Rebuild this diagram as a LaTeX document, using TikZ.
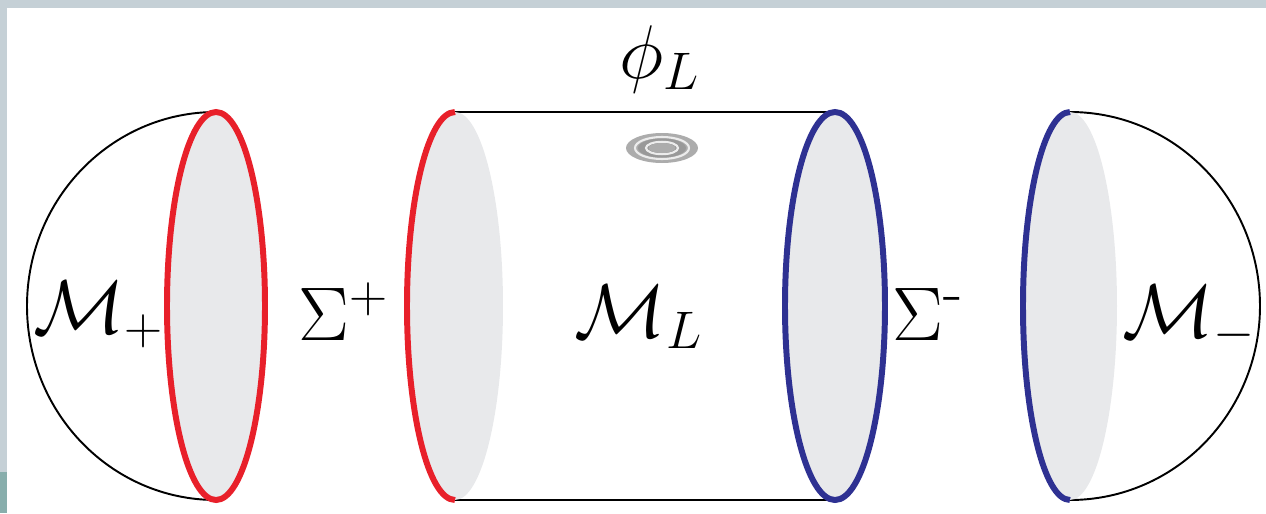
\documentclass[tikz,border=0pt]{standalone}
\usepackage{amsmath,amssymb}
\usepackage{xcolor}
\definecolor{capred}{HTML}{E8202A}
\definecolor{capblue}{HTML}{2E3192}
\definecolor{capgray}{HTML}{E8E9EB}
\definecolor{edgegray}{HTML}{C5D0D6}
\definecolor{edgeteal}{HTML}{88AEAC}

\begin{document}
\begin{tikzpicture}[
  lbl/.style={font=\Huge, scale=0.87, inner sep=0pt, anchor=base},
  rim/.style={line width=1.7pt},
  wall/.style={line width=0.75pt, black},
  dome/.style={line width=0.55pt, black}]
\useasboundingbox (0,0) rectangle (12.66,5.13);
\fill[edgegray] (0,5.05) rectangle (12.66,5.13);
\fill[edgegray] (0,0) rectangle (0.07,5.13);
\fill[edgeteal] (0,0) rectangle (0.07,0.41);

% left cap
\draw[dome] (2.16,4.01) arc[start angle=90, end angle=270, x radius=1.89, y radius=1.94];
\fill[capgray] (2.16,2.07) ellipse[x radius=0.49, y radius=1.94];
\draw[rim, capred] (2.16,2.07) ellipse[x radius=0.49, y radius=1.94];

% cylinder
\draw[wall] (4.55,4.01) -- (8.35,4.01);
\draw[wall] (4.55,0.13) -- (8.35,0.13);
\fill[capgray] (4.55,2.07) ellipse[x radius=0.48, y radius=1.94];
\draw[rim, capred] (4.55,4.01) arc[start angle=90, end angle=270, x radius=0.48, y radius=1.94];
\fill[capgray] (8.35,2.07) ellipse[x radius=0.50, y radius=1.94];
\draw[rim, capblue] (8.35,2.07) ellipse[x radius=0.50, y radius=1.94];

% right cap
\draw[dome] (10.70,4.01) arc[start angle=90, end angle=-90, x radius=1.90, y radius=1.94];
\fill[capgray] (10.70,2.07) ellipse[x radius=0.47, y radius=1.94];
\draw[rim, capblue] (10.70,4.01) arc[start angle=90, end angle=270, x radius=0.47, y radius=1.94];

% field insertion
\fill[gray!65] (6.62,3.65) ellipse[x radius=0.36, y radius=0.15];
\draw[white!85!gray, line width=0.6pt] (6.62,3.65) ellipse[x radius=0.27, y radius=0.11];
\fill[gray!80] (6.62,3.65) ellipse[x radius=0.24, y radius=0.095];
\draw[white!85!gray, line width=0.6pt] (6.62,3.65) ellipse[x radius=0.16, y radius=0.062];
\fill[gray!65] (6.62,3.65) ellipse[x radius=0.135, y radius=0.05];

\node[lbl] (mplus) at (0.99,1.80) {$\mathcal{M}_{\scriptscriptstyle +}$};
\node[lbl] (sigplus) at (3.44,1.73) {$\Sigma^{\scriptscriptstyle +}$};
\node[lbl] (ml) at (6.39,1.76) {$\mathcal{M}_{\scriptscriptstyle L}$};
\node[lbl] (phil) at (6.60,4.35) {$\phi_{\scriptscriptstyle L}$};
\node[lbl] (sigminus) at (9.28,1.73) {$\Sigma^{\text{-}}$};
\node[lbl] (mminus) at (11.89,1.76) {$\mathcal{M}_{\scriptscriptstyle -}$};
\end{tikzpicture}
\end{document}
